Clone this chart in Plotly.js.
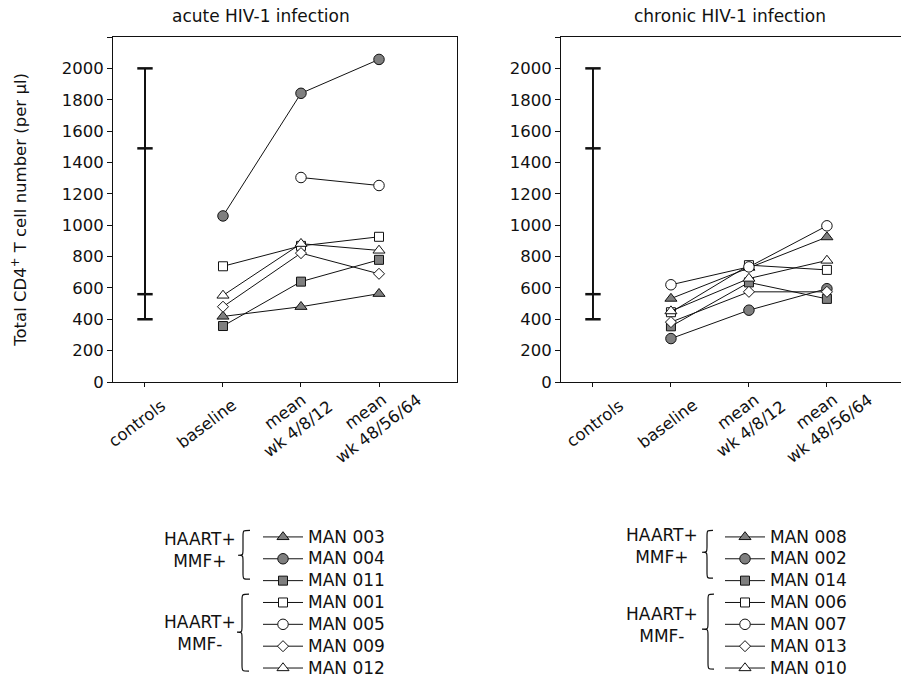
<!DOCTYPE html>
<html><head><meta charset="utf-8">
<script src="https://cdn.plot.ly/plotly-3.0.1.min.js"></script>
<style>body{margin:0;background:#fff}#chart{width:901px;height:680px}</style>
</head><body><div id="chart"></div>
<script>
// ---- data ----
const categories = ['controls', 'baseline', 'wk 4/8/12', 'wk 48/56/64'];
const tickLabels = ['controls', 'baseline', 'mean<br>wk 4/8/12', 'mean<br>wk 48/56/64'];
const timepoints = ['baseline', 'wk 4/8/12', 'wk 48/56/64'];
const controlMarks = [400, 560, 1490, 2000];
const yTickVals = [0, 200, 400, 600, 800, 1000, 1200, 1400, 1600, 1800, 2000];
const yTickText = ['0', '200', '400', '600', '800', '1000', '1200', '1400', '1600', '1800', '2000'];
const yTopTick = [2200];

const acuteNames = ['MAN 003', 'MAN 004', 'MAN 011', 'MAN 001', 'MAN 005', 'MAN 009', 'MAN 012'];
const acute003 = [418, 480, 563];
const acute004 = [1059, 1841, 2057];
const acute011 = [357, 640, 779];
const acute001 = [738, 868, 926];
const acute005 = [null, 1304, 1253];
const acute009 = [480, 822, 690];
const acute012 = [552, 882, 839];

const chronicNames = ['MAN 008', 'MAN 002', 'MAN 014', 'MAN 006', 'MAN 007', 'MAN 013', 'MAN 010'];
const chronic008 = [532, 730, 924];
const chronic002 = [277, 458, 595];
const chronic014 = [355, 635, 530];
const chronic006 = [445, 745, 715];
const chronic007 = [620, 734, 996];
const chronic013 = [382, 575, 575];
const chronic010 = [452, 660, 775];

const groupLabel1 = 'HAART+<br>MMF+';
const groupLabel2 = 'HAART+<br>MMF-';
const titleAcute = 'acute HIV-1 infection';
const titleChronic = 'chronic HIV-1 infection';
const yTitle = 'Total CD4<sup>+</sup> T cell number (per µl)';

// ---- styles ----
const FONT = 'DejaVu Sans, Verdana, sans-serif';
const INK = '#111';
const GRAY = '#7f7f7f';
const symbols = ['triangle-up', 'circle', 'square', 'square', 'circle', 'diamond', 'triangle-up'];
const fills = [GRAY, GRAY, GRAY, 'white', 'white', 'white', 'white'];
const sizes = {'triangle-up': 10.5, 'circle': 10.5, 'square': 9, 'diamond': 8.5};

// pixel -> paper helpers (plot area: x 113..901, y 37..382.5)
const PL = 113, PW = 788, PB = 382.5, PH = 345.5;
const px = x => (x - PL) / PW;
const py = y => (PB - y) / PH;

function subjectTraces(names, series, xa, ya, leg) {
  return names.map((n, i) => ({
    type: 'scatter', mode: 'lines+markers',
    x: timepoints, y: series[i], xaxis: xa, yaxis: ya,
    name: '<span style="font-size:17px">' + n + '</span>',
    legend: leg,
    line: {color: INK, width: 1},
    marker: {symbol: symbols[i], size: sizes[symbols[i]], color: fills[i], line: {color: INK, width: 1}},
    connectgaps: false, hoverinfo: 'x+y'
  }));
}
function controlTrace(xa, ya) {
  return {
    type: 'scatter', mode: 'lines+markers',
    x: controlMarks.map(() => 'controls'), y: controlMarks, xaxis: xa, yaxis: ya,
    line: {color: INK, width: 2},
    marker: {symbol: 'line-ew', size: 11, color: INK, line: {color: INK, width: 2.5}},
    showlegend: false, hoverinfo: 'y'
  };
}

const traces = [
  controlTrace('x', 'y'),
  ...subjectTraces(acuteNames, [acute003, acute004, acute011, acute001, acute005, acute009, acute012], 'x', 'y', 'legend'),
  controlTrace('x2', 'y2'),
  ...subjectTraces(chronicNames, [chronic008, chronic002, chronic014, chronic006, chronic007, chronic013, chronic010], 'x2', 'y2', 'legend2')
];

function xAxis(domain, range, anchor) {
  return {
    domain: domain, anchor: anchor, type: 'category', categoryorder: 'array', categoryarray: categories,
    range: range, showline: true, linecolor: INK, linewidth: 1, mirror: true,
    ticks: 'outside', ticklen: 4, tickcolor: INK, tickwidth: 1,
    showticklabels: false, showgrid: false, zeroline: false, fixedrange: true, automargin: false
  };
}
function yAxis(anchor, mirror) {
  return {
    anchor: anchor, domain: [0, 1], range: [0, 2200],
    tickmode: 'array', tickvals: yTickVals, ticktext: yTickText,
    ticks: 'outside', ticklen: 5, tickcolor: INK, tickwidth: 1,
    minor: {tickmode: 'array', tickvals: yTopTick, ticks: 'outside', ticklen: 5, tickcolor: INK, tickwidth: 1, showgrid: false},
    tickfont: {family: FONT, size: 16.5, color: INK},
    showline: true, linecolor: INK, linewidth: 1, mirror: mirror,
    showgrid: false, zeroline: false, fixedrange: true, automargin: false
  };
}

function brace(xTip, xSpine, xEnd, yTop, yMid, yBot) {
  const r = 6;
  const P = (x, y) => px(x).toFixed(5) + ',' + py(y).toFixed(5);
  return 'M' + P(xEnd, yTop) +
    ' C' + P(xSpine, yTop) + ' ' + P(xSpine, yTop) + ' ' + P(xSpine, yTop + r) +
    ' L' + P(xSpine, yMid - r) +
    ' C' + P(xSpine, yMid) + ' ' + P(xSpine, yMid) + ' ' + P(xTip, yMid) +
    ' C' + P(xSpine, yMid) + ' ' + P(xSpine, yMid) + ' ' + P(xSpine, yMid + r) +
    ' L' + P(xSpine, yBot - r) +
    ' C' + P(xSpine, yBot) + ' ' + P(xSpine, yBot) + ' ' + P(xEnd, yBot);
}
const braceStyle = {type: 'path', xref: 'paper', yref: 'paper', line: {color: INK, width: 1.2}};
const shapes = [
  Object.assign({path: brace(238, 243, 250, 531, 556, 580)}, braceStyle),
  Object.assign({path: brace(237, 242, 249, 595, 633, 672)}, braceStyle),
  Object.assign({path: brace(702, 707, 713, 531, 553, 579)}, braceStyle),
  Object.assign({path: brace(702, 708, 714, 595, 630, 670)}, braceStyle)
];

const xLabelShift = {x: [-8, -16, -9, -7], x2: [2, -3, -4, -4]};
const xLabelY = [424, 424, 421, 421];
const annotations = [];
['x', 'x2'].forEach(xa => {
  categories.forEach((c, i) => {
    annotations.push({
      xref: xa, yref: 'paper', x: c, y: py(xLabelY[i]), xshift: xLabelShift[xa][i],
      text: tickLabels[i], textangle: -37, showarrow: false, align: 'center',
      xanchor: 'center', yanchor: 'middle', font: {family: FONT, size: 16.5, color: INK}
    });
  });
});
const txt = (text, x, y, size, angle) => ({
  xref: 'paper', yref: 'paper', x: px(x), y: py(y), text: text, showarrow: false, textangle: angle || 0,
  xanchor: 'center', yanchor: 'middle', align: 'center', font: {family: FONT, size: size, color: INK}
});
annotations.push(txt(titleAcute, 261, 16, 17));
annotations.push(txt(titleChronic, 730, 16, 17));
annotations.push(txt(yTitle, 19, 210, 16.5, -90));
annotations.push(txt(groupLabel1, 200, 551, 17));
annotations.push(txt(groupLabel2, 200, 633.5, 17));
annotations.push(txt(groupLabel1, 662, 547, 17));
annotations.push(txt(groupLabel2, 662, 626, 17));

const legendBase = {
  xref: 'container', yref: 'container', xanchor: 'left', yanchor: 'top',
  font: {family: FONT, size: 14.5, color: INK}, bgcolor: 'rgba(0,0,0,0)', borderwidth: 0,
  itemwidth: 40, tracegroupgap: 0, traceorder: 'normal'
};

const layout = {
  width: 901, height: 680,
  margin: {l: PL, r: 0, t: 37, b: 680 - PB, pad: 0, autoexpand: false},
  paper_bgcolor: 'white', plot_bgcolor: 'white',
  font: {family: FONT, color: INK},
  showlegend: true,
  xaxis: xAxis([0, px(457)], [-0.41, 4.0], 'y'),
  yaxis: yAxis('x', true),
  xaxis2: xAxis([px(561), 1], [-0.41, 3.95], 'y2'),
  yaxis2: yAxis('x2', false),
  legend: Object.assign({x: 258 / 901, y: 1 - 521 / 680}, legendBase),
  legend2: Object.assign({x: 720 / 901, y: 1 - 521 / 680}, legendBase),
  shapes: shapes,
  annotations: annotations
};

Plotly.newPlot('chart', traces, layout, {displayModeBar: false, staticPlot: true});
</script>
</body></html>
